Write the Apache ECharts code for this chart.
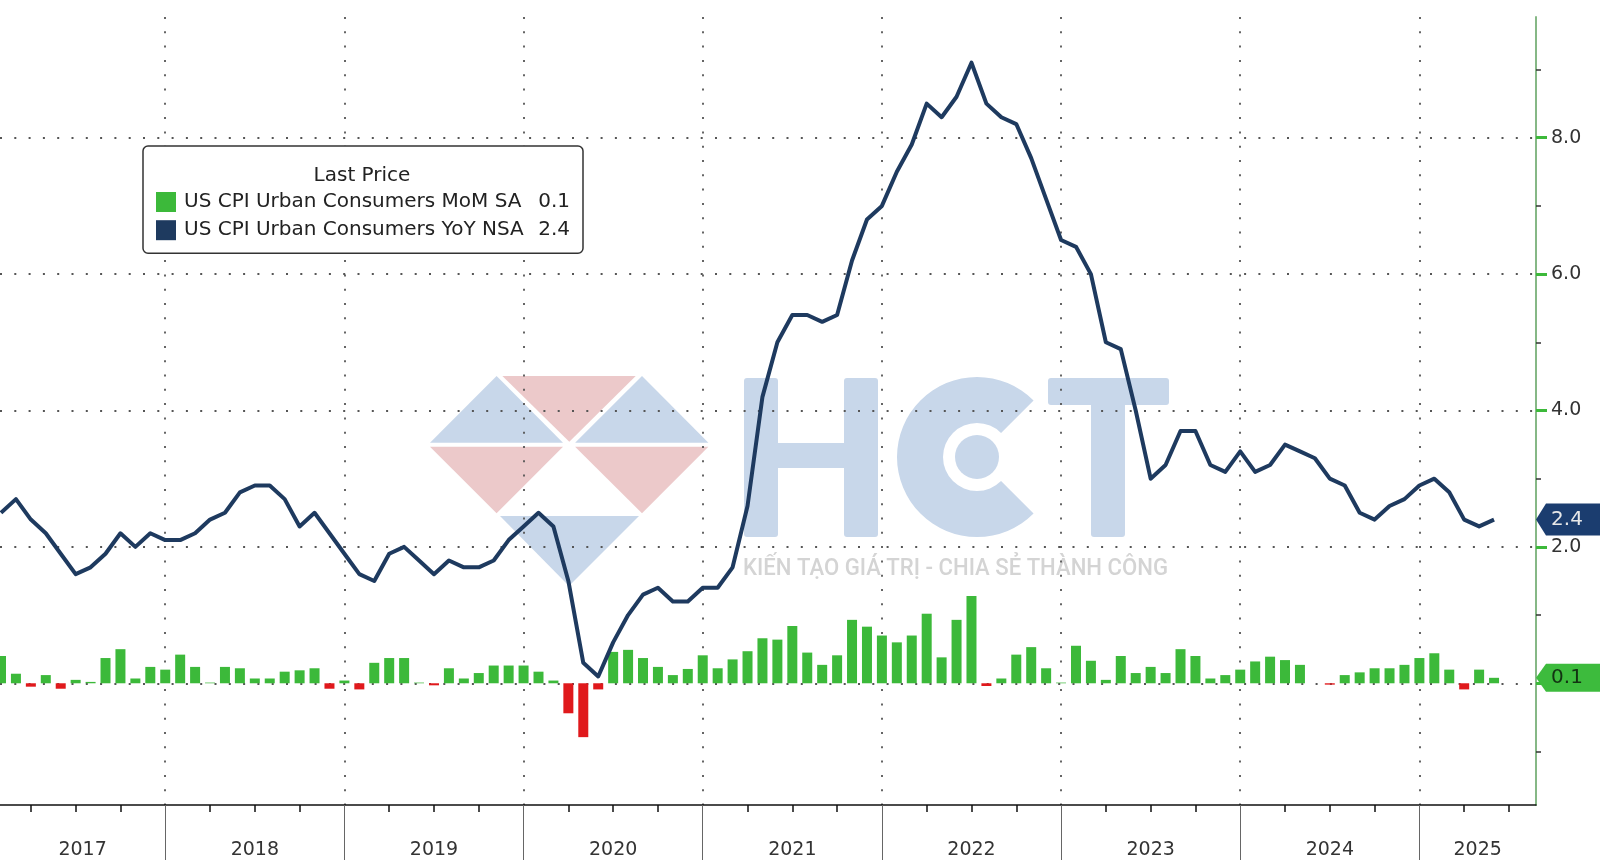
<!DOCTYPE html>
<html>
<head>
<meta charset="utf-8">
<script src="https://cdn.jsdelivr.net/npm/echarts@6/dist/echarts.min.js"></script>
<style>
html,body{margin:0;padding:0;background:#fff;}
#c{width:1600px;height:860px;}
</style>
</head>
<body>
<div id="c"></div>
<script>
// ---------------- DATA ----------------
const startYear = 2017;          // first plotted month: Jan 2017 (month index 0)
const seriesNames = ['US CPI Urban Consumers MoM SA', 'US CPI Urban Consumers YoY NSA'];

// US CPI YoY NSA, %, Jan 2017 .. May 2025
const yoy = [
  2.5, 2.7, 2.4, 2.2, 1.9, 1.6, 1.7, 1.9, 2.2, 2.0, 2.2, 2.1,
  2.1, 2.2, 2.4, 2.5, 2.8, 2.9, 2.9, 2.7, 2.3, 2.5, 2.2, 1.9,
  1.6, 1.5, 1.9, 2.0, 1.8, 1.6, 1.8, 1.7, 1.7, 1.8, 2.1, 2.3,
  2.5, 2.3, 1.5, 0.3, 0.1, 0.6, 1.0, 1.3, 1.4, 1.2, 1.2, 1.4,
  1.4, 1.7, 2.6, 4.2, 5.0, 5.4, 5.4, 5.3, 5.4, 6.2, 6.8, 7.0,
  7.5, 7.9, 8.5, 8.3, 8.6, 9.1, 8.5, 8.3, 8.2, 7.7, 7.1, 6.5,
  6.4, 6.0, 5.0, 4.9, 4.0, 3.0, 3.2, 3.7, 3.7, 3.2, 3.1, 3.4,
  3.1, 3.2, 3.5, 3.4, 3.3, 3.0, 2.9, 2.5, 2.4, 2.6, 2.7, 2.9,
  3.0, 2.8, 2.4, 2.3, 2.4
];

// US CPI MoM SA, %, Jan 2017 .. May 2025
const mom = [
  0.40, 0.14, -0.05, 0.12, -0.08, 0.05, 0.02, 0.37, 0.50, 0.07, 0.24, 0.20,
  0.42, 0.24, 0.01, 0.24, 0.22, 0.07, 0.07, 0.17, 0.19, 0.22, -0.08, 0.04,
  -0.09, 0.30, 0.37, 0.37, 0.01, -0.03, 0.22, 0.07, 0.15, 0.26, 0.26, 0.26,
  0.17, 0.04, -0.44, -0.79, -0.09, 0.46, 0.49, 0.37, 0.24, 0.12, 0.21, 0.41,
  0.22, 0.35, 0.47, 0.66, 0.64, 0.84, 0.45, 0.27, 0.41, 0.93, 0.83, 0.70,
  0.60, 0.70, 1.02, 0.38, 0.93, 1.28, -0.04, 0.07, 0.42, 0.53, 0.22, 0.01,
  0.55, 0.33, 0.05, 0.40, 0.15, 0.24, 0.15, 0.50, 0.40, 0.07, 0.12, 0.20,
  0.32, 0.39, 0.34, 0.27, 0.00, -0.02, 0.12, 0.16, 0.22, 0.22, 0.27, 0.37,
  0.44, 0.20, -0.09, 0.20, 0.08
];

const yearLabels = ['2017', '2018', '2019', '2020', '2021', '2022', '2023', '2024', '2025'];
const yGridValues = [0, 2, 4, 6, 8];
const yLabelValues = [2, 4, 6, 8];
const yMinorValues = [-1, 1, 3, 5, 7, 9];

// ---------------- LAYOUT ----------------
const X_MIN = -0.067, X_MAX = 102.81;
const Y_MIN = -1.785, Y_MAX = 9.77;
const GREEN = '#3cb93a', RED = '#e0191c', NAVY = '#1e3a5f';
const FONT = '"DejaVu Sans", Verdana, sans-serif';

const yoyData = yoy.map((v, i) => [i, v]);
const momData = mom.map((v, i) => [i, v]);
const yearEnds = yearLabels.slice(1).map((_, k) => 11 + 12 * k);
const quarterTicks = [];
for (let m = 2; m <= X_MAX; m += 3) if (m % 12 !== 11) quarterTicks.push(m);
const labelPos = yearLabels.map((_, k) => {
  const a = Math.max(X_MIN, 12 * k - 1), b = Math.min(X_MAX, 12 * k + 11);
  return (a + b) / 2;
});
const lastYoy = yoy[yoy.length - 1], lastMom = mom[mom.length - 1];

const dotted = { color: '#555', width: 1.8, type: [2, 12.3] };
const tagPath = 'path://M0,16 L10,0 L66,0 L66,32 L10,32 Z';

// tagline width fitting
const tagText = 'KIẾN TẠO GIÁ TRỊ - CHIA SẺ THÀNH CÔNG';
const tagFont = '500 24px Roboto, sans-serif';
const mctx = document.createElement('canvas').getContext('2d');
mctx.font = tagFont;
const tagScale = 425 / mctx.measureText(tagText).width;

const wmBlue = '#c8d7ea', wmRed = '#ecc9ca';
const graphicEls = [
  // logo triangles
  { type: 'polygon', z: -10, shape: { points: [[430, 442.7], [496.6, 376], [563, 442.7]] }, style: { fill: wmBlue } },
  { type: 'polygon', z: -10, shape: { points: [[502.4, 376], [635.7, 376], [569.3, 441.7]] }, style: { fill: wmRed } },
  { type: 'polygon', z: -10, shape: { points: [[575.1, 442.7], [642, 376], [708.4, 442.7]] }, style: { fill: wmBlue } },
  { type: 'polygon', z: -10, shape: { points: [[430, 446.7], [563, 446.7], [496.6, 513.3]] }, style: { fill: wmRed } },
  { type: 'polygon', z: -10, shape: { points: [[575.1, 446.7], [708.4, 446.7], [642, 513.3]] }, style: { fill: wmRed } },
  { type: 'polygon', z: -10, shape: { points: [[500, 516], [639, 516], [569, 586]] }, style: { fill: wmBlue } },
  // H
  { type: 'rect', z: -10, shape: { x: 744, y: 378, width: 34, height: 159, r: 3 }, style: { fill: wmBlue } },
  { type: 'rect', z: -10, shape: { x: 844, y: 378, width: 34, height: 159, r: 3 }, style: { fill: wmBlue } },
  { type: 'rect', z: -10, shape: { x: 776, y: 443, width: 70, height: 25 }, style: { fill: wmBlue } },
  // C (ring + dot)
  { type: 'sector', z: -10, shape: { cx: 977, cy: 457, r: 80, r0: 34, startAngle: Math.PI / 4, endAngle: Math.PI * 7 / 4, clockwise: true }, style: { fill: wmBlue } },
  { type: 'circle', z: -10, shape: { cx: 977, cy: 457, r: 22 }, style: { fill: wmBlue } },
  // T
  { type: 'rect', z: -10, shape: { x: 1048, y: 378, width: 121, height: 27, r: 3 }, style: { fill: wmBlue } },
  { type: 'rect', z: -10, shape: { x: 1091, y: 378, width: 34, height: 159, r: 3 }, style: { fill: wmBlue } },
  // tagline
  { type: 'text', z: -10, x: 743, y: 569, scaleX: tagScale,
    style: { text: tagText, font: tagFont, fill: '#d4d4d4', align: 'left', verticalAlign: 'middle' } },
  // legend title
  { type: 'text', z: 100, x: 362, y: 175.5,
    style: { text: 'Last Price', font: '20px ' + FONT, fill: '#222', align: 'center', verticalAlign: 'middle' } }
];

const chart = echarts.init(document.getElementById('c'));
chart.setOption({
  animation: false,
  backgroundColor: '#fff',
  grid: { left: 0, right: 64, top: 17, bottom: 55, containLabel: false },
  graphic: { elements: graphicEls },
  legend: {
    left: 143, top: 146,
    orient: 'vertical',
    padding: [46, 13, 13, 13],
    itemGap: 8.2,
    itemWidth: 20, itemHeight: 20,
    icon: 'rect',
    selectedMode: false,
    backgroundColor: '#fff',
    borderColor: '#333', borderWidth: 1.5, borderRadius: 5,
    data: [
      { name: seriesNames[0], itemStyle: { color: GREEN } },
      { name: seriesNames[1], itemStyle: { color: NAVY } }
    ],
    formatter: name => {
      const v = name === seriesNames[0] ? lastMom : lastYoy;
      return '{n|' + name + '}{v|' + v.toFixed(1) + '}';
    },
    textStyle: {
      fontFamily: FONT, fontSize: 20, color: '#222',
      rich: {
        n: { fontFamily: FONT, fontSize: 20, color: '#222', width: 350, lineHeight: 22, padding: [0, 0, 0, 3] },
        v: { fontFamily: FONT, fontSize: 20, color: '#222', width: 36, align: 'right', lineHeight: 22 }
      }
    }
  },
  xAxis: [
    {
      type: 'value', min: X_MIN, max: X_MAX, position: 'bottom',
      axisLine: { show: true, onZero: false, lineStyle: { color: '#111', width: 1.5 } },
      axisTick: { show: true, customValues: quarterTicks, length: 7, lineStyle: { color: '#111', width: 1.5 } },
      axisLabel: {
        show: true, customValues: labelPos, margin: 36,
        fontFamily: FONT, fontSize: 19, color: '#333',
        formatter: v => { const i = labelPos.findIndex(p => Math.abs(p - v) < 0.01); return i >= 0 ? yearLabels[i] : ''; }
      },
      splitLine: { show: false }
    },
    {
      type: 'value', min: X_MIN, max: X_MAX, position: 'bottom',
      axisLine: { show: false, onZero: false },
      axisTick: { show: true, customValues: yearEnds, length: 56, lineStyle: { color: '#666', width: 1 } },
      axisLabel: { show: false },
      splitLine: { show: true, lineStyle: dotted }
    }
  ],
  yAxis: [
    {
      type: 'value', min: Y_MIN, max: Y_MAX, position: 'right',
      axisLine: { show: true, onZero: false, lineStyle: { color: '#86b886', width: 2 } },
      axisTick: { show: true, customValues: yGridValues, length: 11, lineStyle: { color: GREEN, width: 3 } },
      axisLabel: {
        show: true, customValues: yLabelValues, margin: 15,
        fontFamily: FONT, fontSize: 19, color: '#333',
        formatter: v => v.toFixed(1)
      },
      splitLine: { show: true, lineStyle: dotted }
    },
    {
      type: 'value', min: Y_MIN, max: Y_MAX, position: 'right',
      axisLine: { show: false, onZero: false },
      axisTick: { show: true, customValues: yMinorValues, length: 5, lineStyle: { color: '#333', width: 1.5 } },
      axisLabel: { show: false },
      splitLine: { show: false }
    }
  ],
  series: [
    {
      name: seriesNames[0], type: 'bar', xAxisIndex: 0, yAxisIndex: 0,
      data: momData, barWidth: 10, clip: false, z: 3,
      itemStyle: { color: p => (p.value[1] < 0 ? RED : GREEN) },
      markPoint: {
        symbol: tagPath, symbolSize: [66, 28], symbolOffset: [33, 0], symbolKeepAspect: false,
        itemStyle: { color: '#3dbb3d' },
        label: { show: true, formatter: () => lastMom.toFixed(1), color: '#123312', fontFamily: FONT, fontSize: 20, offset: [-2, 0] },
        data: [{ coord: [X_MAX, lastMom] }]
      }
    },
    {
      name: seriesNames[1], type: 'line', xAxisIndex: 0, yAxisIndex: 0,
      data: yoyData, showSymbol: false, symbol: 'none', clip: false, z: 4,
      lineStyle: { color: NAVY, width: 4, join: 'round' },
      itemStyle: { color: NAVY },
      markPoint: {
        symbol: tagPath, symbolSize: [66, 32], symbolOffset: [33, 0], symbolKeepAspect: false,
        itemStyle: { color: '#1b3d6f' },
        label: { show: true, formatter: () => lastYoy.toFixed(1), color: '#e8e8e8', fontFamily: FONT, fontSize: 20, offset: [-2, 0] },
        data: [{ coord: [X_MAX, lastYoy] }]
      }
    }
  ]
});
</script>
</body>
</html>
